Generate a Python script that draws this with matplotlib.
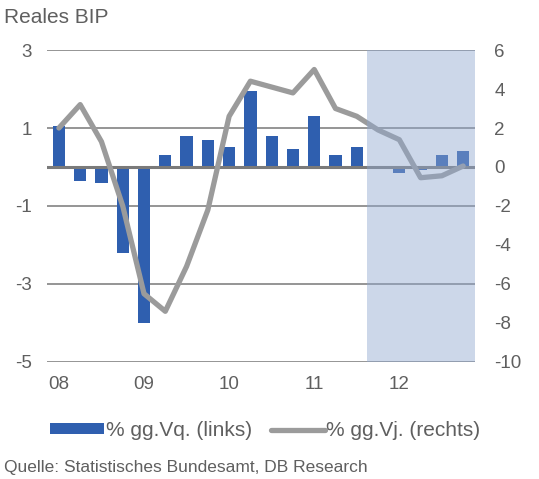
import matplotlib
matplotlib.use("Agg")
import matplotlib.pyplot as plt
from matplotlib.patches import Patch
from matplotlib.lines import Line2D
import numpy as np

plt.rcParams['font.family'] = ['Liberation Sans', 'DejaVu Sans']
plt.rcParams['axes.unicode_minus'] = False

quarters = ["08Q1", "08Q2", "08Q3", "08Q4", "09Q1", "09Q2", "09Q3", "09Q4",
            "10Q1", "10Q2", "10Q3", "10Q4", "11Q1", "11Q2", "11Q3", "11Q4",
            "12Q1", "12Q2", "12Q3", "12Q4"]
qoq = [1.05, -0.35, -0.4, -2.2, -4.0, 0.3, 0.8, 0.7,
       0.5, 1.95, 0.8, 0.45, 1.3, 0.3, 0.5, 0.0,
       -0.15, -0.08, 0.3, 0.4]
yoy = [2.0, 3.2, 1.3, -2.0, -6.5, -7.4, -5.1, -2.2,
       2.6, 4.4, 4.1, 3.8, 5.0, 3.0, 2.6, 1.9,
       1.4, -0.55, -0.45, 0.05]
year_labels = ["08", "09", "10", "11", "12"]
forecast_start = "11Q4"

bar_color = "#2f5faf"
line_color = "#9b9b9b"
shade_color = "#8fa8d0"
text_color = "#5f5f5f"

fig = plt.figure(figsize=(5.39, 4.79), dpi=100)
ax = fig.add_axes([0.0872, 0.2443, 0.7938, 0.6513])
ax2 = ax.twinx()

x = np.arange(len(quarters))
ax.bar(x, qoq, width=0.58, color=bar_color, zorder=2)
ax.set_ylim(-5, 3)
ax.set_yticks([-5, -3, -1, 1, 3])
ax.set_xlim(-0.56, 19.55)
ax.set_xticks(x[::4])
ax.set_xticklabels(year_labels)
for yv in [-5, -3, -1, 1, 3]:
    ax.axhline(yv, color="#8c8c8c", lw=1.3, zorder=1)
ax.axhline(0, color="#7a7a7a", lw=2.2, zorder=3)

ax2.plot(x, yoy, color=line_color, lw=3.8, solid_joinstyle="round",
         solid_capstyle="round", zorder=2)
ax2.set_ylim(-10, 6)
ax2.set_yticks(np.arange(-10, 7, 2))
fs = quarters.index(forecast_start)
ax2.axvspan(fs - 0.5, 19.55, color=shade_color, alpha=0.45, lw=0, zorder=3)

for a in (ax, ax2):
    for s in a.spines.values():
        s.set_visible(False)
    a.tick_params(length=0, labelsize=13.5, labelcolor=text_color)
ax.tick_params(axis='y', pad=11)
ax.tick_params(axis='x', pad=10)
ax2.tick_params(axis='y', pad=14)

fig.text(0.008, 0.963, "Reales BIP", fontsize=15, color=text_color, va="center")

handles = [Patch(facecolor=bar_color, edgecolor="none"),
           Line2D([0], [0], color=line_color, lw=3.8, solid_capstyle="round")]
fig.legend(handles, ["% gg.Vq. (links)", "% gg.Vj. (rechts)"],
           loc="center", bbox_to_anchor=(0.492, 0.101), ncol=2, frameon=False,
           fontsize=15, handlelength=2.6, handleheight=0.42, handletextpad=0.08,
           columnspacing=0.9, labelcolor=text_color)

fig.text(0.008, 0.025, "Quelle: Statistisches Bundesamt, DB Research",
         fontsize=12.5, color=text_color, va="center")

fig.savefig("out.png", dpi=100)
